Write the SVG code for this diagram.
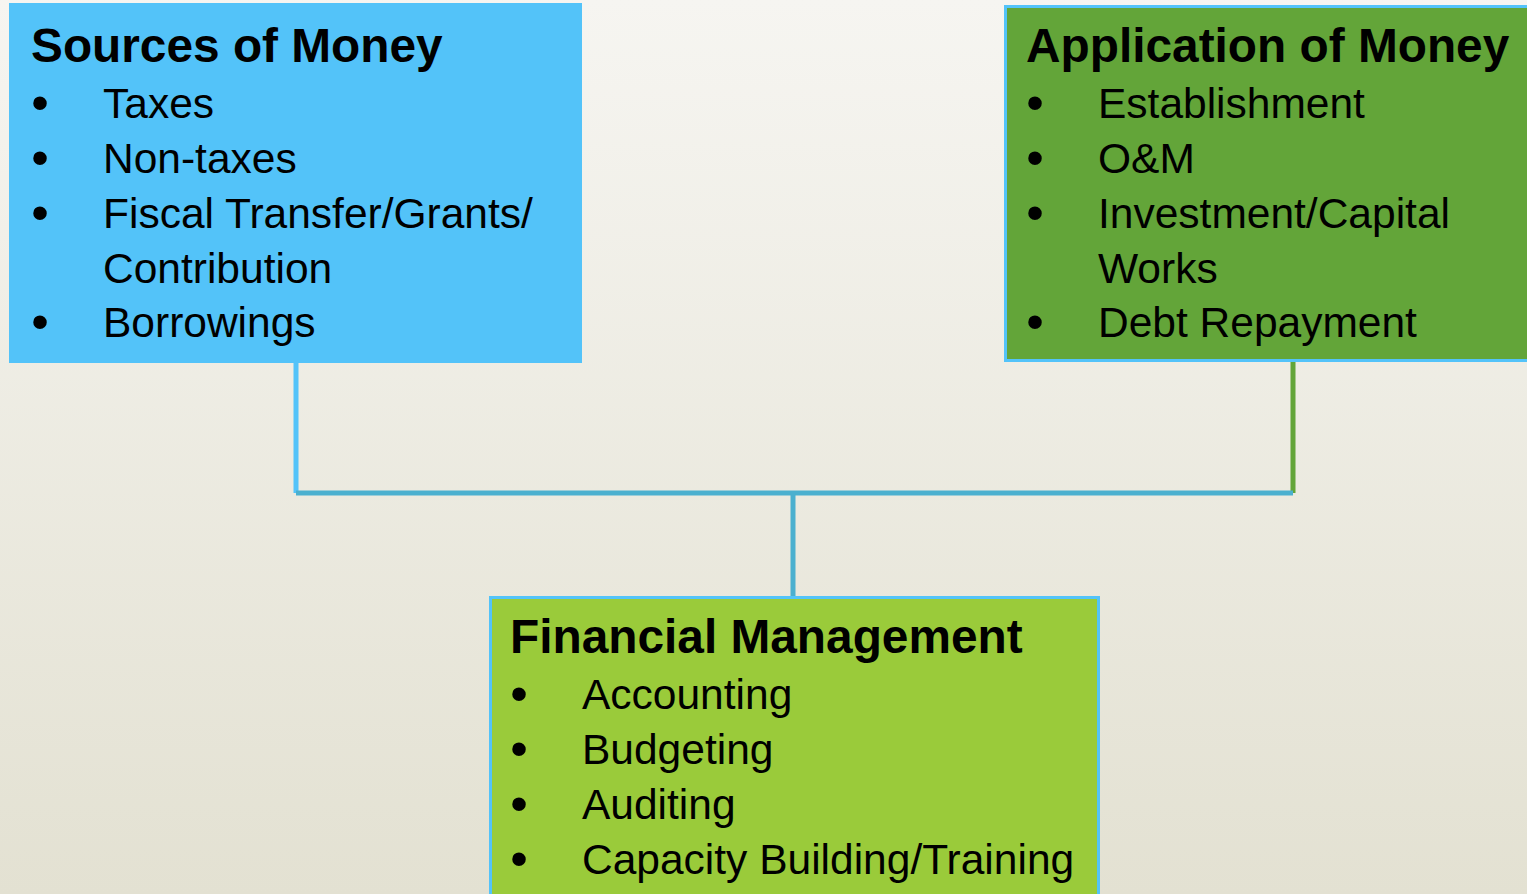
<svg xmlns="http://www.w3.org/2000/svg" width="1527" height="894" viewBox="0 0 1527 894">
  <defs>
    <linearGradient id="bg" x1="0" y1="0" x2="0" y2="1">
      <stop offset="0" stop-color="#F6F5F1"/>
      <stop offset="1" stop-color="#E3E1D2"/>
    </linearGradient>
  </defs>
  <style>
    .title { font-family: "Liberation Sans", Arial, sans-serif; font-weight: bold; font-size: 47.8px; fill: #000; }
    .item { font-family: "Liberation Sans", Arial, sans-serif; font-size: 42.5px; fill: #000; }
    .bullet { font-family: "Liberation Sans", Arial, sans-serif; font-size: 50px; fill: #000; text-anchor: middle; }
    .link { fill: none; stroke-width: 5; stroke-linecap: butt; }
  </style>

  <rect x="0" y="0" width="1527" height="894" fill="url(#bg)"/>

  <!-- connectors -->
  <g id="connectors">
    <line class="link" x1="296" y1="362" x2="296" y2="493" stroke="#53C3F9"/>
    <line class="link" x1="1293" y1="362" x2="1293" y2="493" stroke="#63A539"/>
    <line class="link" x1="296" y1="493" x2="1293" y2="493" stroke="#4BB0CF"/>
    <line class="link" x1="793" y1="493" x2="793" y2="597" stroke="#4BB0CF"/>
  </g>

  <!-- sources -->
  <g id="sources">
    <rect x="10.5" y="4.5" width="570" height="357" fill="#53C3F9" stroke="#53C3F9" stroke-width="3"/>
    <text class="title" x="31" y="62">Sources of Money</text>
    <text class="bullet" x="40" y="120">•</text>
    <text class="item" x="103" y="118">Taxes</text>
    <text class="bullet" x="40" y="175">•</text>
    <text class="item" x="103" y="173">Non-taxes</text>
    <text class="bullet" x="40" y="230">•</text>
    <text class="item" x="103" y="228">Fiscal Transfer/Grants/</text>
    <text class="item" x="103" y="283">Contribution</text>
    <text class="bullet" x="40" y="339">•</text>
    <text class="item" x="103" y="337">Borrowings</text>
  </g>

  <!-- application -->
  <g id="application">
    <rect x="1005.5" y="6.5" width="530" height="354" fill="#63A539" stroke="#53C3F9" stroke-width="3"/>
    <text class="title" x="1026" y="62">Application of Money</text>
    <text class="bullet" x="1035" y="120">•</text>
    <text class="item" x="1098" y="118">Establishment</text>
    <text class="bullet" x="1035" y="175">•</text>
    <text class="item" x="1098" y="173">O&amp;M</text>
    <text class="bullet" x="1035" y="230">•</text>
    <text class="item" x="1098" y="228">Investment/Capital</text>
    <text class="item" x="1098" y="283">Works</text>
    <text class="bullet" x="1035" y="339">•</text>
    <text class="item" x="1098" y="337">Debt Repayment</text>
  </g>

  <!-- financial management -->
  <g id="financial">
    <rect x="490.5" y="597.5" width="608" height="310" fill="#9ACB3A" stroke="#53C3F9" stroke-width="3"/>
    <text class="title" x="510" y="653">Financial Management</text>
    <text class="bullet" x="519" y="711">•</text>
    <text class="item" x="582" y="709">Accounting</text>
    <text class="bullet" x="519" y="766">•</text>
    <text class="item" x="582" y="764">Budgeting</text>
    <text class="bullet" x="519" y="821">•</text>
    <text class="item" x="582" y="819">Auditing</text>
    <text class="bullet" x="519" y="876">•</text>
    <text class="item" x="582" y="874">Capacity Building/Training</text>
  </g>
</svg>
